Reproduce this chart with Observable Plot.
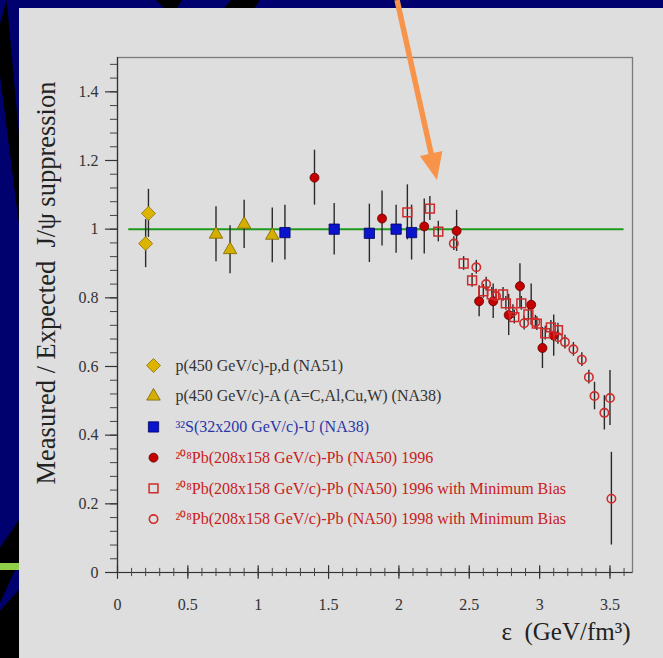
<!DOCTYPE html>
<html><head><meta charset="utf-8">
<script src="https://cdn.jsdelivr.net/npm/d3@7"></script>
<script src="https://cdn.jsdelivr.net/npm/@observablehq/plot@0.6"></script>
<style>
html,body{margin:0;padding:0;}
body{width:663px;height:658px;background:#00006e;position:relative;overflow:hidden;}
#panel{position:absolute;left:19px;top:8px;width:644px;height:650px;background:#dedede;}
.deco{position:absolute;background:#000;}
#chart{position:absolute;left:0;top:0;}
</style></head><body>
<div class="deco" style="left:0;top:0;width:19px;height:300px;clip-path:polygon(0 8%,35% 0,100% 45%,100% 75%,0 25%)"></div>
<div class="deco" style="left:0;top:520px;width:19px;height:138px;clip-path:polygon(0 20%,100% 0,100% 30%,0 60%)"></div>
<div class="deco" style="left:0;top:590px;width:19px;height:68px;clip-path:polygon(0 30%,100% 0,100% 100%,0 100%)"></div>
<div class="deco" style="left:156px;top:0;width:26px;height:8px;clip-path:polygon(0 0,100% 0,80% 100%,30% 100%)"></div>
<div class="deco" style="left:224px;top:0;width:36px;height:8px;clip-path:polygon(20% 0,100% 0,85% 100%,0 100%)"></div>
<div style="position:absolute;left:0;top:563px;width:19px;height:7px;background:#8fcf4a;"></div>
<div id="panel"></div>
<div id="chart"></div>
<script>
// ---- data ----
const na51X = [0.20, 0.22];
const na51Y = [0.958, 1.046];
const na51E = [0.07, 0.07];

const na38pAX = [0.70, 0.80, 0.90, 1.10];
const na38pAY = [0.985, 0.94, 1.014, 0.982];
const na38pAE = [0.08, 0.07, 0.07, 0.08];

const na38SUX = [1.19, 1.54, 1.79, 1.98, 2.09];
const na38SUY = [0.99, 1.0, 0.988, 1.0, 0.99];
const na38SUE = [0.08, 0.075, 0.085, 0.07, 0.08];

const pb96X = [1.40, 1.88, 2.18, 2.41, 2.57, 2.67, 2.78, 2.86, 2.94, 3.02, 3.10];
const pb96Y = [1.15, 1.031, 1.008, 0.995, 0.79, 0.79, 0.75, 0.834, 0.78, 0.654, 0.69];
const pb96E = [0.08, 0.08, 0.08, 0.06, 0.045, 0.05, 0.06, 0.065, 0.06, 0.06, 0.06];

const pb96mbX = [2.06, 2.22, 2.28, 2.46, 2.52, 2.60, 2.66, 2.74, 2.76, 2.82, 2.87, 2.92, 2.98, 3.04, 3.08, 3.13];
const pb96mbY = [1.049, 1.06, 0.993, 0.90, 0.851, 0.819, 0.81, 0.81, 0.784, 0.744, 0.784, 0.752, 0.725, 0.697, 0.714, 0.706];
const pb96mbE = [0.08, 0.035, 0.03, 0.02, 0.02, 0.02, 0.02, 0.02, 0.02, 0.02, 0.02, 0.02, 0.02, 0.02, 0.02, 0.02];

const pb98mbX = [2.39, 2.55, 2.62, 2.69, 2.81, 2.89, 2.97, 3.13, 3.18, 3.24, 3.30, 3.35, 3.39, 3.46, 3.50, 3.51];
const pb98mbY = [0.958, 0.889, 0.84, 0.805, 0.76, 0.726, 0.729, 0.685, 0.671, 0.65, 0.62, 0.569, 0.514, 0.465, 0.508, 0.215];
const pb98mbE = [0.02, 0.02, 0.02, 0.02, 0.02, 0.02, 0.02, 0.02, 0.02, 0.02, 0.02, 0.02, 0.04, 0.05, 0.08, 0.135];

const refLineX = [0.08, 3.60];
const refLineY = 1;

const xTicks = [0, 0.5, 1, 1.5, 2, 2.5, 3, 3.5];
const xTickLabels = ["0", "0.5", "1", "1.5", "2", "2.5", "3", "3.5"];
const xMinor = d3.range(0, 3.65, 0.1);
const yTicks = [0, 0.2, 0.4, 0.6, 0.8, 1, 1.2, 1.4];
const yTickLabels = ["0", "0.2", "0.4", "0.6", "0.8", "1", "1.2", "1.4"];
const yMinor = d3.range(0, 1.5, 0.04);

const legendLabels = [
  "p(450 GeV/c)-p,d (NA51)",
  "p(450 GeV/c)-A (A=C,Al,Cu,W) (NA38)",
  "³²S(32x200 GeV/c)-U (NA38)",
  "²⁰⁸Pb(208x158 GeV/c)-Pb (NA50) 1996",
  "²⁰⁸Pb(208x158 GeV/c)-Pb (NA50) 1996 with Minimum Bias",
  "²⁰⁸Pb(208x158 GeV/c)-Pb (NA50) 1998 with Minimum Bias"
];
const xLabel = "ε  (GeV/fm³)";
const yLabel = "Measured / Expected  J/ψ suppression";

// annotation arrow (start, tip) in data units
const arrowX = [1.99, 2.274];
const arrowY = [1.666, 1.142];

// ---- build ----
const rows = (xs, ys, es) => xs.map((x, i) => ({x, y: ys[i], e: es[i]}));
const serif = "'Liberation Serif','Times New Roman',serif";

const series = [
  {data: rows(na51X, na51Y, na51E), symbol: "diamond2", r: 6.3, fill: "#dcb400", stroke: "#8c7000", sw: 0.8, text: "#333"},
  {data: rows(na38pAX, na38pAY, na38pAE), symbol: "triangle", r: 5, fill: "#d4ae00", stroke: "#7a6400", sw: 0.8, text: "#333"},
  {data: rows(na38SUX, na38SUY, na38SUE), symbol: "square", r: 5.8, fill: "#0a14cc", stroke: "#000060", sw: 0.8, text: "#2a36a8"},
  {data: rows(pb96X, pb96Y, pb96E), symbol: "circle", r: 4.5, fill: "#c40000", stroke: "#600000", sw: 0.8, text: "#c82020"},
  {data: rows(pb96mbX, pb96mbY, pb96mbE), symbol: "square", r: 5, fill: "none", stroke: "#d02a2a", sw: 1.5, text: "#c82020"},
  {data: rows(pb98mbX, pb98mbY, pb98mbE), symbol: "circle", r: 4.2, fill: "none", stroke: "#d02a2a", sw: 1.6, text: "#c82020"}
];

const legendTop = 0.603, legendStep = 0.0895, legendSymX = 0.256, legendTextX = 0.412;

const marks = [
  Plot.frame({stroke: "#7a7a7a", strokeWidth: 1.3}),
  Plot.ruleY([refLineY], {x1: () => refLineX[0], x2: () => refLineX[1], stroke: "#1f9a1f", strokeWidth: 2}),
  // axes
  Plot.ruleX([0], {stroke: "#333", strokeWidth: 1.2}),
  Plot.ruleY([0], {stroke: "#333", strokeWidth: 1.2}),
  Plot.ruleY(yMinor, {y: d => d, x1: -0.05, x2: 0, stroke: "#444", strokeWidth: 1}),
  Plot.ruleY(yTicks, {y: d => d, x1: -0.085, x2: 0, stroke: "#333", strokeWidth: 1.2}),
  Plot.ruleX(xMinor, {x: d => d, y1: -0.012, y2: 0.012, stroke: "#444", strokeWidth: 1}),
  Plot.ruleX(xTicks, {x: d => d, y1: -0.02, y2: 0.02, stroke: "#333", strokeWidth: 1.2}),
  Plot.text(yTicks, {x: 0, y: d => d, text: (d, i) => yTickLabels[i], textAnchor: "end", dx: -19, fontSize: 16, fill: "#333", fontFamily: serif}),
  Plot.text(xTicks, {x: d => d, y: 0, text: (d, i) => xTickLabels[i], dy: 32, fontSize: 16, fill: "#333", fontFamily: serif}),
  Plot.text([xLabel], {frameAnchor: "bottom-right", text: d => d, dy: 67, dx: -2, textAnchor: "end", fontSize: 25, fill: "#222", fontFamily: serif}),
  Plot.text([yLabel], {frameAnchor: "left", text: d => d, rotate: -90, textAnchor: "middle", dx: -71, dy: -32, fontSize: 26.5, fill: "#222", fontFamily: serif}),
];

for (const s of series) {
  marks.push(Plot.ruleX(s.data, {x: "x", y1: d => d.y - d.e, y2: d => d.y + d.e, stroke: "#2a2a2a", strokeWidth: 1.4}));
}
series.forEach((s, i) => {
  marks.push(Plot.dot(s.data, {x: "x", y: "y", symbol: s.symbol, r: s.r, fill: s.fill, stroke: s.stroke, strokeWidth: s.sw}));
  const ly = legendTop - i * legendStep;
  marks.push(Plot.dot([legendLabels[i]], {x: () => legendSymX, y: () => ly, symbol: s.symbol, r: s.r, fill: s.fill, stroke: s.stroke, strokeWidth: s.sw}));
  marks.push(Plot.text([legendLabels[i]], {x: () => legendTextX, y: () => ly, text: d => d, textAnchor: "start", fontSize: 16, fill: s.text, fontFamily: serif}));
});

// orange arrow, positioned through the scales
marks.push((index, scales) => {
  const sx = scales.x, sy = scales.y;
  const x1 = sx(arrowX[0]), y1 = sy(arrowY[0]), x2 = sx(arrowX[1]), y2 = sy(arrowY[1]);
  const dx = x2 - x1, dy = y2 - y1, L = Math.hypot(dx, dy), ux = dx / L, uy = dy / L;
  const hl = 27, hw = 11.5;
  const bx = x2 - ux * hl, by = y2 - uy * hl;
  const g = d3.create("svg:g");
  g.append("line").attr("x1", x1).attr("y1", y1).attr("x2", bx + ux * 2).attr("y2", by + uy * 2)
    .attr("stroke", "#f7944a").attr("stroke-width", 5.5);
  g.append("path").attr("d", `M${x2},${y2}L${bx - uy * hw},${by + ux * hw}L${bx + uy * hw},${by - ux * hw}Z`)
    .attr("fill", "#f7944a");
  return g.node();
});

const chart = Plot.plot({
  width: 663,
  height: 658,
  marginLeft: 117,
  marginRight: 31,
  marginTop: 57,
  marginBottom: 86,
  x: {domain: [0, 3.66], axis: null},
  y: {domain: [0, 1.5], axis: null},
  style: {background: "transparent", fontFamily: serif, overflow: "visible"},
  marks
});
document.getElementById("chart").appendChild(chart);
</script>
</body></html>
